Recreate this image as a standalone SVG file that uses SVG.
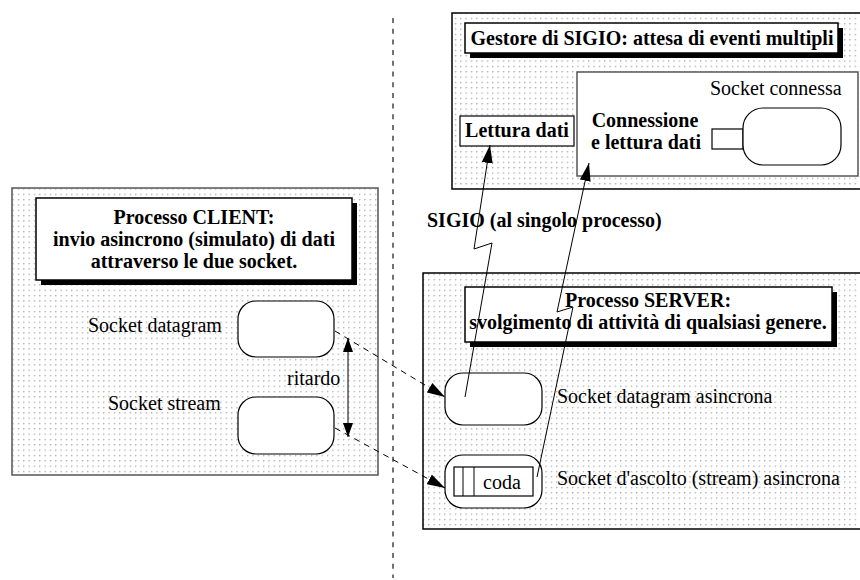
<svg xmlns="http://www.w3.org/2000/svg" width="860" height="580" viewBox="0 0 860 580">
<defs>
<pattern id="dots" x="0" y="0" width="5.33" height="5.33" patternUnits="userSpaceOnUse">
<rect x="2" y="2" width="1" height="1" fill="#666"/>
</pattern>
<marker id="ah" viewBox="0 0 18 11" refX="18" refY="5.5" markerWidth="18" markerHeight="11" markerUnits="userSpaceOnUse" orient="auto">
<path d="M0,0 L18,5.5 L0,11 Z" fill="#000"/>
</marker>
<marker id="ahm" viewBox="0 0 14 10" refX="14" refY="5" markerWidth="14" markerHeight="10" markerUnits="userSpaceOnUse" orient="auto">
<path d="M0,0 L14,5 L0,10 Z" fill="#000"/>
</marker>
<marker id="ahs" viewBox="0 0 14 10" refX="0" refY="5" markerWidth="14" markerHeight="10" markerUnits="userSpaceOnUse" orient="auto">
<path d="M14,0 L0,5 L14,10 Z" fill="#000"/>
</marker>
</defs>
<style>
.b{font-weight:bold}
.m{text-anchor:middle}
.area{fill:url(#dots);stroke:#555;stroke-width:1.5}
.title{fill:#fff;stroke:#000;stroke-width:1.5}
.shadow{fill:#000}
.sock{fill:#fff;stroke:#000;stroke-width:1.2}
.thin{fill:none;stroke:#000;stroke-width:1}
.dash{fill:none;stroke:#000;stroke-width:1;stroke-dasharray:6 5}
</style>
<rect width="860" height="580" fill="#fff"/>
<line x1="393" y1="18" x2="393" y2="578" stroke="#444" stroke-width="1.5" stroke-dasharray="5 5.7"/>
<g font-family="'Liberation Serif', 'DejaVu Serif', serif" font-size="20" fill="#000">

<g id="sigio-manager">
<rect class="area" x="452" y="13" width="420" height="176" style="stroke:#000"/>
<rect class="shadow" x="470" y="28" width="373" height="30"/>
<rect class="title" x="465" y="23" width="373" height="30"/>
<text class="b m" x="652" y="45">Gestore di SIGIO: attesa di eventi multipli</text>
</g>

<g id="lettura-dati">
<rect fill="#fff" stroke="#000" stroke-width="1.2" x="460" y="116" width="114" height="30"/>
<text class="b m" x="517" y="137">Lettura dati</text>
</g>

<g id="connessione">
<rect fill="#fff" stroke="#555" stroke-width="1.5" x="577" y="72" width="281" height="104"/>
<text x="710" y="95">Socket connessa</text>
<text class="b m" x="645" y="127">Connessione</text>
<text class="b m" x="646" y="149">e lettura dati</text>
<rect class="sock" x="712" y="129" width="31" height="20"/>
<rect class="sock" x="743" y="108" width="98" height="57" rx="20" ry="20"/>
</g>

<g id="client">
<rect class="area" x="12" y="188" width="366" height="287"/>
<rect class="shadow" x="41" y="203" width="316" height="82"/>
<rect class="title" x="36" y="198" width="316" height="82"/>
<text class="b m" x="194" y="224">Processo CLIENT:</text>
<text class="b m" x="194" y="246">invio asincrono (simulato) di dati</text>
<text class="b m" x="194" y="268">attraverso le due socket.</text>
</g>

<g id="client-datagram">
<text x="88" y="332">Socket datagram</text>
<rect class="sock" x="238" y="301" width="96" height="56" rx="18" ry="18"/>
</g>

<g id="client-stream">
<text x="108" y="410">Socket stream</text>
<rect class="sock" x="238" y="397" width="96" height="57" rx="18" ry="18"/>
</g>

<g id="server">
<rect class="area" x="423" y="273" width="450" height="256" style="stroke:#000"/>
<rect class="shadow" x="470" y="292" width="367" height="55"/>
<rect class="title" x="465" y="287" width="367" height="55"/>
<text class="b m" x="648" y="307">Processo SERVER:</text>
<text class="b m" x="648" y="329">svolgimento di attività di qualsiasi genere.</text>
</g>

<g id="server-datagram">
<rect class="sock" x="445" y="373" width="97" height="52" rx="18" ry="18"/>
<text x="557" y="403">Socket datagram asincrona</text>
</g>

<g id="server-listen">
<rect class="sock" x="445" y="455" width="97" height="53" rx="18" ry="18"/>
<rect class="sock" x="454" y="467" width="79" height="29"/>
<line class="thin" x1="463" y1="467" x2="463" y2="496"/>
<line class="thin" x1="474" y1="467" x2="474" y2="496"/>
<text class="m" x="502" y="489">coda</text>
<text x="557" y="485">Socket d'ascolto (stream) asincrona</text>
</g>

<g id="connectors">
<path class="dash" d="M335,331 L445,397" marker-end="url(#ah)"/>
<path class="dash" d="M335,428 L445,488" marker-end="url(#ah)"/>
<path class="thin" d="M348,338 L348,437" marker-start="url(#ahs)" marker-end="url(#ahm)"/>
<text x="287" y="385">ritardo</text>
<path class="thin" d="M465,397 L492,243 L474,249 L490,145" marker-end="url(#ah)"/>
<path class="thin" d="M537,477 L573,307 L557,312 L589,163" marker-end="url(#ah)"/>
<text class="b" x="427" y="227">SIGIO (al singolo processo)</text>
</g>
</g>
</svg>
